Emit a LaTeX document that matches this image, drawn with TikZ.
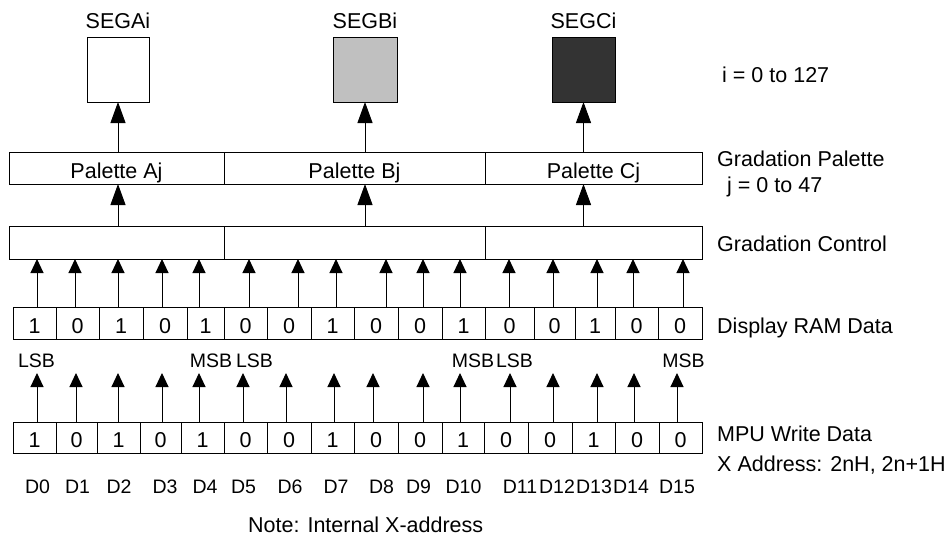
\documentclass[tikz,border=0pt]{standalone}
\usepackage{fontspec}
\setmainfont{Liberation Sans}
\usetikzlibrary{arrows.meta}
\begin{document}
\begin{tikzpicture}[x=1pt,y=-1pt,
  bigf/.style={font=\fontsize{21.5pt}{26pt}\selectfont},
  smallf/.style={font=\fontsize{19.5pt}{23pt}\selectfont},
  box/.style={draw, line width=1pt, inner sep=0pt, outer sep=0pt},
  cell/.style={box, bigf, text height=20pt, text depth=0pt},
  lbl/.style={inner sep=0pt, anchor=base west, bigf},
  slbl/.style={inner sep=0pt, anchor=base, smallf},
  bitarrow/.style={line width=1pt, -{Triangle[length=14pt,width=13pt]}},
  bigarrow/.style={line width=1pt, -{Triangle[length=21pt,width=15pt]}}
]
\useasboundingbox (0,0) rectangle (948,536);

% SEG boxes
\node[box, minimum width=62pt, minimum height=65pt, fill=white] (sA) at (118,69.5) {};
\node[box, minimum width=64pt, minimum height=65pt, fill={rgb,255:red,192;green,192;blue,192}] (sB) at (365,69.5) {};
\node[box, minimum width=63pt, minimum height=65pt, fill={rgb,255:red,51;green,51;blue,51}] (sC) at (583.5,69.5) {};
\node[slbl, bigf] (tA) at (118,28) {SEGAi};
\node[slbl, bigf] (tB) at (365,28) {SEGBi};
\node[slbl, bigf] (tC) at (583.5,28) {SEGCi};

% Palette row
\node[cell, minimum width=215pt, minimum height=32pt] (pA) at (116.5,168) {Palette Aj};
\node[cell, minimum width=261pt, minimum height=32pt] (pB) at (354.5,168) {Palette Bj};
\node[cell, minimum width=217pt, minimum height=32pt] (pC) at (593.5,168) {Palette Cj};

% Gradation control row
\node[box, minimum width=215pt, minimum height=33pt] (gA) at (116.5,242.5) {};
\node[box, minimum width=261pt, minimum height=33pt] (gB) at (354.5,242.5) {};
\node[box, minimum width=217pt, minimum height=33pt] (gC) at (593.5,242.5) {};

% arrows between upper rows
\draw[bigarrow] (pA.north -| sA.south) -- (sA.south);
\draw[bigarrow] (pB.north -| sB.south) -- (sB.south);
\draw[bigarrow] (pC.north -| sC.south) -- (sC.south);
\draw[bigarrow] (gA.north -| sA.south) -- (pA.south -| sA.south);
\draw[bigarrow] (gB.north -| sB.south) -- (pB.south -| sB.south);
\draw[bigarrow] (gC.north -| sC.south) -- (pC.south -| sC.south);

% Display RAM data row
\foreach \i/\a/\b/\v/\ax/\g in {0/13/56/1/37/gA, 1/56/99/0/75/gA, 2/99/143/1/118/gA, 3/143/187/0/162/gA, 4/187/224/1/199/gA, 5/224/267/0/249/gB, 6/267/311/0/298/gB, 7/311/354/1/336/gB, 8/354/398/0/386/gB, 9/398/442/0/423/gB, 10/442/485/1/460/gB, 11/485/534/0/509/gC, 12/534/575/0/553/gC, 13/575/615/1/597/gC, 14/615/658/0/633/gC, 15/658/702/0/683/gC}{
  \node[cell, minimum width={(\b-\a)*1pt}, minimum height=32pt] (r\i) at ({(\a+\b)/2},323) {\v};
  \coordinate (ra\i) at (\ax,0);
  \draw[bitarrow] (r\i.north -| ra\i) -- (\g.south -| ra\i);
}

% MPU write data row
\foreach \i/\a/\b/\v/\ax in {0/13/56/1/37, 1/56/97/0/76, 2/97/140/1/118, 3/140/181/0/162, 4/181/224/1/199, 5/224/267/0/243, 6/267/311/0/286, 7/311/354/1/334, 8/354/398/0/373, 9/398/442/0/423, 10/442/484/1/460, 11/484/528/0/510, 12/528/572/0/553, 13/572/615/1/597, 14/615/659/0/634, 15/659/702/0/677}{
  \node[cell, minimum width={(\b-\a)*1pt}, minimum height=31pt] (m\i) at ({(\a+\b)/2},437.5) {\v};
  \coordinate (mt\i) at (\ax,373);
  \draw[bitarrow] (m\i.north -| mt\i) -- (mt\i);
}

% LSB / MSB labels
\node[slbl] (l0) at (36.5,367) {LSB};
\node[slbl] (h0) at (211,367) {MSB};
\node[slbl] (l1) at (254.5,367) {LSB};
\node[slbl] (h1) at (473,367) {MSB};
\node[slbl] (l2) at (514.5,367) {LSB};
\node[slbl] (h2) at (683.5,367) {MSB};

% D labels
\foreach \k/\x in {0/37.5, 1/77.5, 2/119, 3/165, 4/205, 5/243.5, 6/290, 7/336, 8/381.5, 9/418.5, 10/463.5, 11/520, 12/557, 13/594, 14/631, 15/677}{
  \node[slbl] (d\k) at (\x,493) {D\k};
}

% right-hand labels
\node[lbl] (ri) at (722,82) {i = 0 to 127};
\node[lbl] (gp) at (717,166) {Gradation Palette};
\node[lbl] (rj) at (727,192) {j = 0 to 47};
\node[lbl] (gc) at (717,251) {Gradation Control};
\node[lbl] (dr) at (717,333) {Display RAM Data};
\node[lbl] (mw) at (717,441) {MPU Write Data};
\node[lbl] (xa) at (717,471) {X Address: 2nH, 2n+1H};
\node[lbl] (nt) at (248,532) {Note: Internal X-address};
\end{tikzpicture}
\end{document}
